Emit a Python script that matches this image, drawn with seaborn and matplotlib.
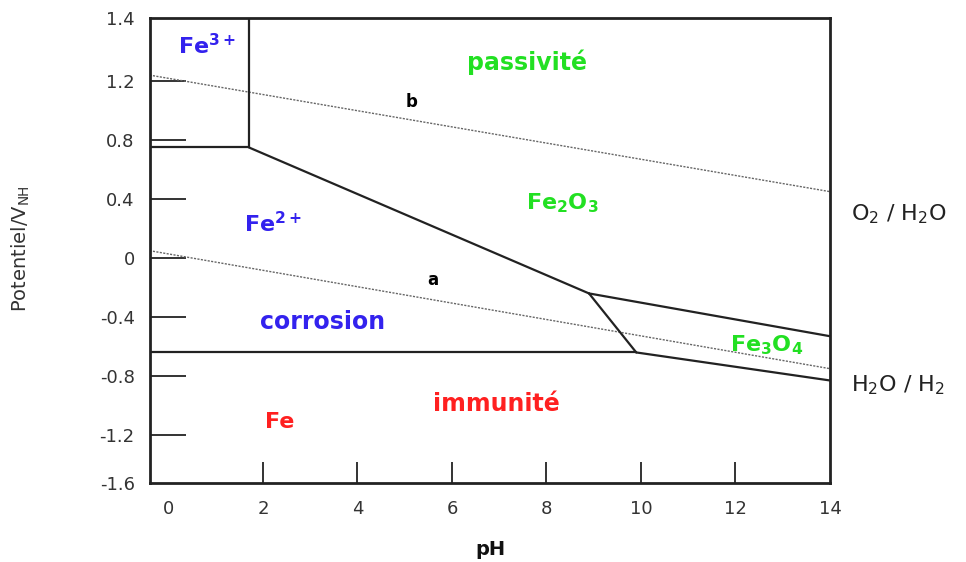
import matplotlib
matplotlib.use('Agg')
import matplotlib.pyplot as plt
import seaborn as sns
import pandas as pd

# domain boundaries of the Fe / H2O system (pH, potential in V)
fe3_fe2_ph = [-0.5, 1.7]
fe3_fe2_E = [0.75, 0.75]
fe3_fe2o3_ph = [1.7, 1.7]
fe3_fe2o3_E = [0.75, 1.7]
fe2_fe2o3_ph = [1.7, 8.9]
fe2_fe2o3_E = [0.75, -0.24]
fe2o3_fe3o4_ph = [8.9, 14.0]
fe2o3_fe3o4_E = [-0.24, -0.53]
fe2_fe3o4_ph = [8.9, 9.9]
fe2_fe3o4_E = [-0.24, -0.64]
fe_fe2_ph = [-0.5, 9.9]
fe_fe2_E = [-0.64, -0.64]
fe_fe3o4_ph = [9.9, 14.0]
fe_fe3o4_E = [-0.64, -0.83]

# water stability lines a (H2O/H2) and b (O2/H2O)
water_ph = [-0.4, 14.0]
line_a_E = [0.05, -0.75]
line_b_E = [1.24, 0.45]

x_marks = [2, 4, 6, 8, 10, 12]
x_labels = ['0', '2', '4', '6', '8', '10', '12', '14']
y_marks = [1.2, 0.8, 0.4, 0, -0.4, -0.8, -1.2]
y_labels = ['1.4', '1.2', '0.8', '0.4', '0', '-0.4', '-0.8', '-1.2', '-1.6']

BLUE = '#3322ee'
GREEN = '#22e022'
RED = '#ff2020'

# region labels: text, pH, E, colour, size
region_labels = [
    (r'Fe$^{\mathbf{3+}}$', 0.82, 1.44, BLUE, 16),
    ('passivité', 7.58, 1.33, GREEN, 17),
    ('b', 5.15, 1.06, 'black', 12),
    (r'Fe$_{\mathbf{2}}$O$_{\mathbf{3}}$', 8.34, 0.37, GREEN, 16),
    (r'Fe$^{\mathbf{2+}}$', 2.2, 0.23, BLUE, 16),
    ('a', 5.59, -0.15, 'black', 12),
    ('corrosion', 3.26, -0.435, BLUE, 17),
    (r'Fe$_{\mathbf{3}}$O$_{\mathbf{4}}$', 12.65, -0.59, GREEN, 16),
    ('immunité', 6.95, -0.99, RED, 17),
    ('Fe', 2.36, -1.11, RED, 16),
]

sns.set_theme(style='white')
plt.rcParams['font.family'] = ['DejaVu Sans']
plt.rcParams['mathtext.fontset'] = 'dejavusans'

segments = {
    'fe3_fe2': (fe3_fe2_ph, fe3_fe2_E),
    'fe3_fe2o3': (fe3_fe2o3_ph, fe3_fe2o3_E),
    'fe2_fe2o3': (fe2_fe2o3_ph, fe2_fe2o3_E),
    'fe2o3_fe3o4': (fe2o3_fe3o4_ph, fe2o3_fe3o4_E),
    'fe2_fe3o4': (fe2_fe3o4_ph, fe2_fe3o4_E),
    'fe_fe2': (fe_fe2_ph, fe_fe2_E),
    'fe_fe3o4': (fe_fe3o4_ph, fe_fe3o4_E),
}
bounds = pd.concat([pd.DataFrame({'pH': ph, 'E': e, 'seg': name})
                    for name, (ph, e) in segments.items()], ignore_index=True)
water = pd.concat([pd.DataFrame({'pH': water_ph, 'E': line_a_E, 'seg': 'a'}),
                   pd.DataFrame({'pH': water_ph, 'E': line_b_E, 'seg': 'b'})],
                  ignore_index=True)

fig = plt.figure(figsize=(9.66, 5.62), dpi=100)
ax = fig.add_axes([150 / 966, 79 / 562, 680 / 966, 465 / 562])

sns.lineplot(data=water, x='pH', y='E', units='seg', estimator=None, sort=False,
             color='#666666', linewidth=1.0, linestyle=(0, (1.5, 1)), ax=ax)
sns.lineplot(data=bounds, x='pH', y='E', units='seg', estimator=None, sort=False,
             color='#222222', linewidth=1.6, ax=ax)

xmin, xmax = -0.39, 14.0
ymin, ymax = -1.525, 1.627
ax.set_xlim(xmin, xmax)
ax.set_ylim(ymin, ymax)

# tick marks drawn inside (minor), labels placed separately (major, no mark)
ax.xaxis.remove_overlapping_locs = False
ax.yaxis.remove_overlapping_locs = False
ax.set_xticks(x_marks, minor=True)
ax.set_yticks(y_marks, minor=True)
ax.set_xticks(range(0, 15, 2))
ax.set_xticklabels(x_labels)
ax.set_yticks([ymax] + y_marks + [ymin])
ax.set_yticklabels(y_labels)
ax.tick_params(which='minor', direction='in', length=15, width=1.4, color='#333333',
               bottom=True, left=True, top=False, right=False)
ax.tick_params(axis='y', which='minor', length=26)
ax.tick_params(which='major', length=0, labelsize=13, labelcolor='#333333')
ax.tick_params(axis='x', which='major', pad=12)
ax.tick_params(axis='y', which='major', pad=11)

for s in ax.spines.values():
    s.set_visible(True)
    s.set_color('#222222')
    s.set_linewidth(2)

for text, ph, e, col, size in region_labels:
    ax.text(ph, e, text, color=col, fontsize=size, fontweight='bold',
            ha='center', va='center')

ax.text(14.45, 0.30, r'O$_2$ / H$_2$O', fontsize=16, color='#222222',
        ha='left', va='center', clip_on=False)
ax.text(14.45, -0.86, r'H$_2$O / H$_2$', fontsize=16, color='#222222',
        ha='left', va='center', clip_on=False)

ax.set_xlabel('pH', fontsize=14, fontweight='bold', color='#111111', labelpad=16)
ax.set_ylabel(r'Potentiel/V$_{\mathrm{NH}}$', fontsize=14, color='#333333')
ax.yaxis.set_label_coords(-0.174, 0.505)

fig.savefig('out.png', dpi=100)
